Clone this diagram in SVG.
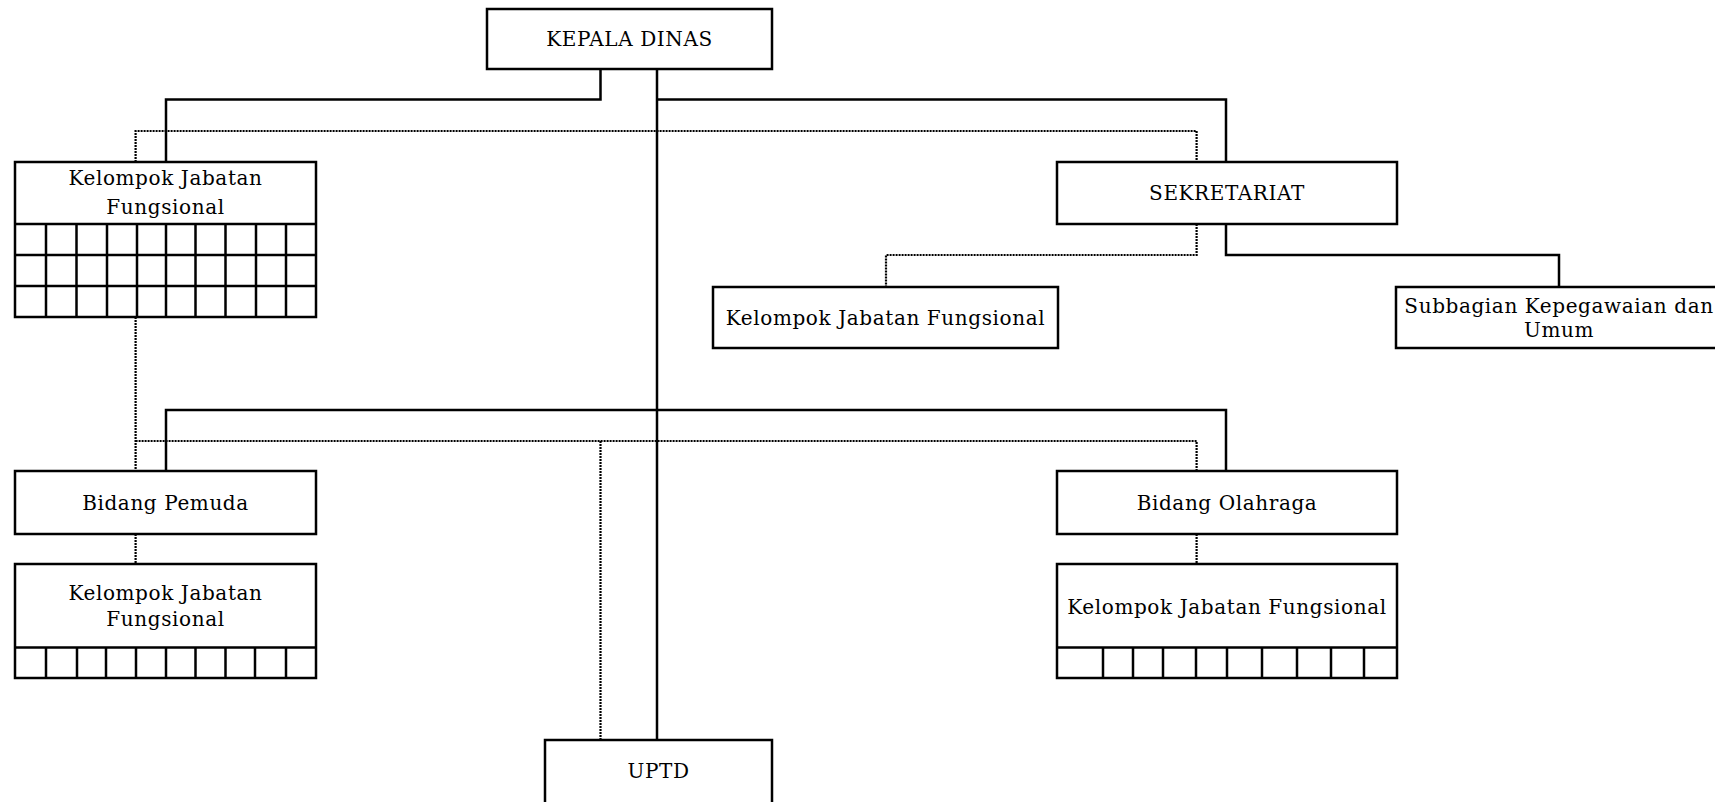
<svg xmlns="http://www.w3.org/2000/svg" width="1715" height="802" viewBox="0 0 1715 802">
<style>
.box{fill:#fff;stroke:#000;stroke-width:2.5}
.grid{fill:none;stroke:#000;stroke-width:2.5}
.solid{fill:none;stroke:#000;stroke-width:2.5}
.dot{fill:none;stroke:#000;stroke-width:2.2;stroke-dasharray:2,1}
text{font-family:"DejaVu Serif","Liberation Serif",serif;font-size:20px;letter-spacing:0.6px;fill:#000;text-anchor:middle}
</style>
<rect width="1715" height="802" fill="#fff"/>
<g id="connectors">
<polyline class="solid" points="600.5,69 600.5,99.5 166,99.5 166,162"/>
<line class="solid" x1="657" y1="69" x2="657" y2="740"/>
<polyline class="solid" points="657,99.5 1226,99.5 1226,162"/>
<polyline class="dot" points="135.6,162 135.6,131 1196.6,131 1196.6,162"/>
<line class="dot" x1="135.6" y1="317" x2="135.6" y2="471"/>
<polyline class="dot" points="1196.6,224 1196.6,255 886,255 886,287"/>
<polyline class="solid" points="1226,224 1226,255 1559,255 1559,287"/>
<polyline class="solid" points="166,471 166,410 1226,410 1226,471"/>
<polyline class="dot" points="135.6,441 1196.6,441 1196.6,471"/>
<line class="dot" x1="600.5" y1="441" x2="600.5" y2="740"/>
<line class="dot" x1="135.6" y1="534" x2="135.6" y2="564"/>
<line class="dot" x1="1196.6" y1="534" x2="1196.6" y2="564"/>
</g>
<g id="kepala-dinas">
<rect class="box" x="487" y="9" width="285" height="60"/>
<text x="629.5" y="46">KEPALA DINAS</text>
</g>
<g id="kjf-kepala">
<rect class="box" x="15" y="162" width="301" height="155"/>
<path class="grid" d="M15,224H316M15,255H316M15,286H316M46,224V317M76.5,224V317M107,224V317M137,224V317M166,224V317M195.5,224V317M225.5,224V317M256,224V317M286,224V317"/>
<text x="165.5" y="185">Kelompok Jabatan</text>
<text x="165.5" y="214">Fungsional</text>
</g>
<g id="sekretariat">
<rect class="box" x="1057" y="162" width="340" height="62"/>
<text x="1227" y="200">SEKRETARIAT</text>
</g>
<g id="kjf-sekretariat">
<rect class="box" x="713" y="287" width="345" height="61"/>
<text x="885.5" y="325">Kelompok Jabatan Fungsional</text>
</g>
<g id="subbagian">
<rect class="box" x="1396" y="287" width="326" height="61"/>
<text x="1559" y="313">Subbagian Kepegawaian dan</text>
<text x="1559" y="337">Umum</text>
</g>
<g id="bidang-pemuda">
<rect class="box" x="15" y="471" width="301" height="63"/>
<text x="165.5" y="510">Bidang Pemuda</text>
</g>
<g id="kjf-pemuda">
<rect class="box" x="15" y="564" width="301" height="114"/>
<path class="grid" d="M15,647.5H316M46,647.5V678M77,647.5V678M106,647.5V678M136,647.5V678M166,647.5V678M195.5,647.5V678M225.5,647.5V678M255,647.5V678M286,647.5V678"/>
<text x="165.5" y="600">Kelompok Jabatan</text>
<text x="165.5" y="626">Fungsional</text>
</g>
<g id="bidang-olahraga">
<rect class="box" x="1057" y="471" width="340" height="63"/>
<text x="1227" y="510">Bidang Olahraga</text>
</g>
<g id="kjf-olahraga">
<rect class="box" x="1057" y="564" width="340" height="114"/>
<path class="grid" d="M1057,647.5H1397M1103,647.5V678M1133,647.5V678M1163,647.5V678M1196,647.5V678M1227,647.5V678M1262,647.5V678M1297,647.5V678M1331,647.5V678M1364,647.5V678"/>
<text x="1227" y="614">Kelompok Jabatan Fungsional</text>
</g>
<g id="uptd">
<rect class="box" x="545" y="740" width="227" height="70"/>
<text x="658.5" y="778">UPTD</text>
</g>
</svg>
